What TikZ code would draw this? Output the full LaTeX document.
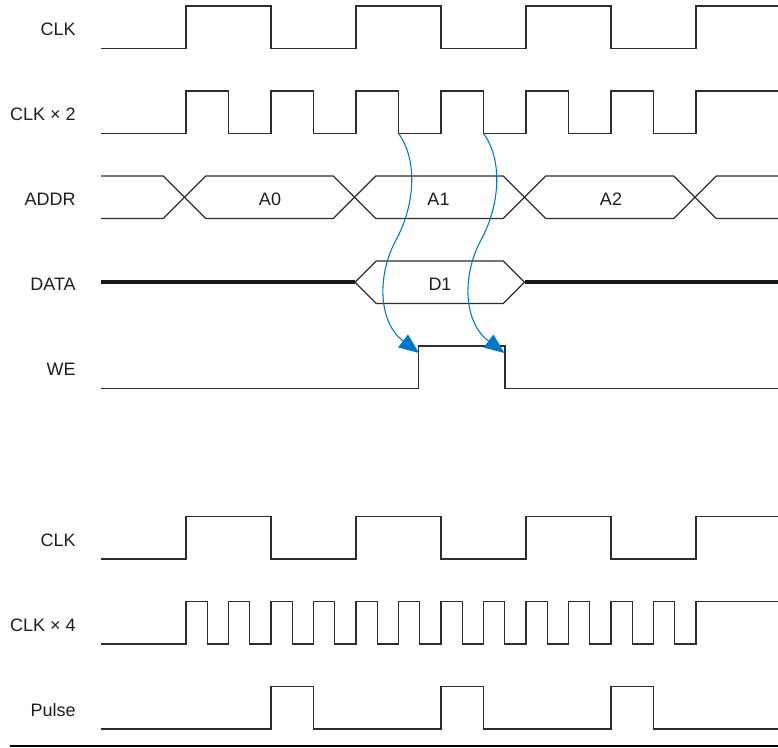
\documentclass[tikz,border=0pt]{standalone}
\usepackage{fontspec}
\setmainfont{Liberation Sans}
\usetikzlibrary{arrows.meta}
\definecolor{sigcol}{RGB}{45,45,45}
\definecolor{arrcol}{RGB}{0,120,200}
\definecolor{txtcol}{RGB}{30,30,30}
\begin{document}
\begin{tikzpicture}[x=0.75pt,y=-0.75pt,
  sig/.style={draw=sigcol,line width=1pt,line join=miter},
  bus/.style={draw=black!90,line width=3pt},
  lbl/.style={anchor=base east,inner sep=0pt,text=txtcol,font=\fontsize{13.5}{16}\selectfont},
  val/.style={anchor=base,inner sep=0pt,text=txtcol,font=\fontsize{13.5}{16}\selectfont},
  flow/.style={draw=arrcol,line width=0.8pt,-{Triangle[length=15pt,width=12pt,fill=arrcol]}}]
\useasboundingbox (0,0) rectangle (778,747);

% labels
\node[lbl] (lclk) at (76,35.5) {CLK};
\node[lbl] (lclk2) at (76,120.5) {CLK × 2};
\node[lbl] (laddr) at (76,205.5) {ADDR};
\node[lbl] (ldata) at (76,290.5) {DATA};
\node[lbl] (lwe) at (76,375.5) {WE};
\node[lbl] (lbclk) at (76,546.5) {CLK};
\node[lbl] (lclk4) at (76,631.5) {CLK × 4};
\node[lbl] (lpulse) at (76,716.5) {Pulse};

% CLK
\draw[sig] (101,48.5) -| (186,6) -| (271,48.5) -| (356,6) -| (441,48.5) -| (526,6) -| (611,48.5) -| (696,6) -- (778,6);
% CLK x2
\draw[sig] (101,133.5) -| (186,91) -| (228.5,133.5) -| (271,91) -| (313.5,133.5) -| (356,91) -| (398.5,133.5) -| (441,91) -| (483.5,133.5) -| (526,91) -| (568.5,133.5) -| (611,91) -| (653.5,133.5) -| (696,91) -- (778,91);
% ADDR
\draw[sig] (101,176) -- (163.25,176) -- (205.75,218.5) -- (333.25,218.5) -- (375.75,176) -- (503.25,176) -- (545.75,218.5) -- (673.75,218.5) -- (716.25,176) -- (778,176);
\draw[sig] (101,218.5) -- (163.25,218.5) -- (205.75,176) -- (333.25,176) -- (375.75,218.5) -- (503.25,218.5) -- (545.75,176) -- (673.75,176) -- (716.25,218.5) -- (778,218.5);
\node[val] (a0) at (270,205) {A0};
\node[val] (a1) at (438.5,205) {A1};
\node[val] (a2) at (611,205) {A2};
% DATA
\draw[bus] (101,282.25) -- (355,282.25);
\draw[bus] (524.5,282.25) -- (778,282.25);
\draw[sig] (355,282.25) -- (376.25,261) -- (503.25,261) -- (524.5,282.25) -- (503.25,303.5) -- (376.25,303.5) -- cycle;
\node[val] (d1) at (440,290) {D1};
% WE
\draw[sig] (101,388.5) -| (418.5,346) -| (505,388.5) -- (778,388.5);

% arrows
\coordinate (s1) at (398.5,133.5);
\coordinate (m1) at (396,240);
\coordinate (e1) at (419,353);
\coordinate (s2) at (483.5,133.5);
\coordinate (m2) at (481,240);
\coordinate (e2) at (504.5,353);
\draw[flow] (s1) .. controls (418,160) and (415,205) .. (m1) .. controls (377,275) and (378,322) .. (e1);
\draw[flow] (s2) .. controls (503,160) and (500,205) .. (m2) .. controls (462,275) and (463,322) .. (e2);

% bottom CLK
\draw[sig] (101,559) -| (186,516.5) -| (271,559) -| (356,516.5) -| (441,559) -| (526,516.5) -| (611,559) -| (696,516.5) -- (778,516.5);
% CLK x4
\draw[sig] (101,644) foreach \k in {0,...,11} { -| ({186+42.5*\k},601.5) -| ({207.25+42.5*\k},644) } -| (696,601.5) -- (778,601.5);
% Pulse
\draw[sig] (101,729) -| (271,686.5) -| (313.5,729) -| (441,686.5) -| (483.5,729) -| (611,686.5) -| (653.5,729) -- (778,729);

% bottom rule
\fill[black] (10,744.5) rectangle (778,747);
\end{tikzpicture}
\end{document}
